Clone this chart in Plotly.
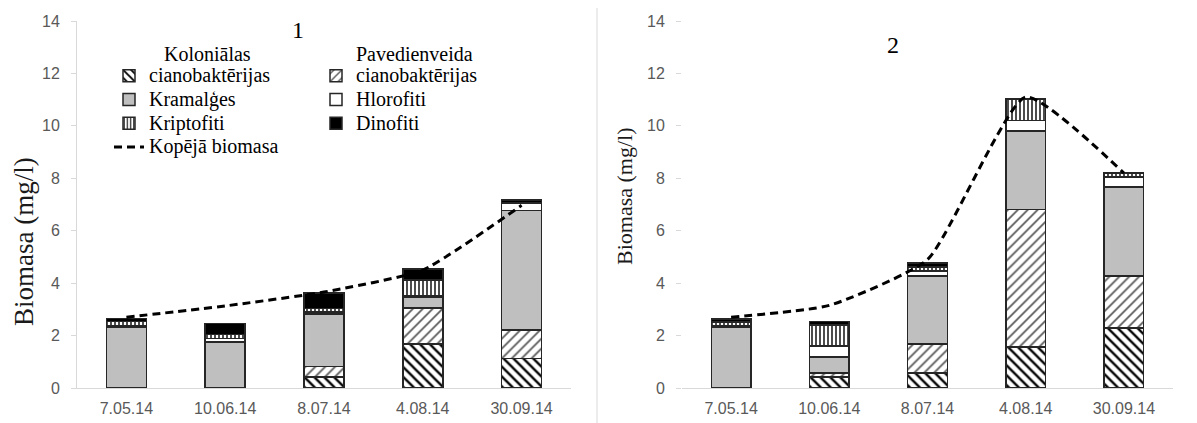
import plotly.graph_objects as go

# The page body has an 8px margin, so the figure is 8px smaller than the window.
W, H = 1189, 415

dates = ["7.05.14", "10.06.14", "8.07.14", "4.08.14", "30.09.14"]

# Panel 1 (mg/l)
kol1 = [0.0, 0.0, 0.42, 1.68, 1.13]
pav1 = [0.0, 0.0, 0.40, 1.37, 1.08]
kram1 = [2.33, 1.76, 2.00, 0.42, 4.56]
hlor1 = [0.05, 0.12, 0.08, 0.05, 0.28]
kript1 = [0.15, 0.17, 0.14, 0.60, 0.02]
dino1 = [0.12, 0.42, 0.58, 0.42, 0.10]
total1 = [2.70, 3.13, 3.66, 4.50, 6.97]

# Panel 2 (mg/l)
kol2 = [0.0, 0.42, 0.57, 1.56, 2.29]
pav2 = [0.0, 0.15, 1.11, 5.24, 1.98]
kram2 = [2.33, 0.61, 2.59, 3.00, 3.40]
hlor2 = [0.05, 0.42, 0.20, 0.40, 0.38]
kript2 = [0.13, 0.80, 0.15, 0.82, 0.15]
dino2 = [0.12, 0.13, 0.15, 0.0, 0.02]
total2 = [2.70, 3.15, 4.90, 11.10, 8.20]

SP = '<span style="font-size:20px">%s</span>'
names = [
    SP % "\u00a0\u00a0\u00a0Koloniālas" + "<br>" + SP % "cianobaktērijas",
    SP % "Pavedienveida" + "<br>" + SP % "cianobaktērijas",
    SP % "Kramalģes",
    SP % "Hlorofiti",
    SP % "Kriptofiti",
    SP % "Dinofiti",
]
line_name = SP % "Kopējā biomasa"

EDGE = "#262626"
styles = [
    dict(color="white", pattern=dict(shape="\\", fgcolor="#000000", bgcolor="white", size=7, solidity=0.33)),
    dict(color="white", pattern=dict(shape="/", fgcolor="#595959", bgcolor="white", size=7, solidity=0.25)),
    dict(color="#bfbfbf"),
    dict(color="white"),
    dict(color="white", pattern=dict(shape="|", fgcolor="#000000", bgcolor="white", size=4, solidity=0.35)),
    dict(color="#000000"),
]
legend_of = ["legend", "legend2", "legend", "legend2", "legend", "legend2"]

fig = go.Figure()

panels = [
    ([kol1, pav1, kram1, hlor1, kript1, dino1], total1, "x", "y", True),
    ([kol2, pav2, kram2, hlor2, kript2, dino2], total2, "x2", "y2", False),
]

for series, total, xa, ya, show in panels:
    for i, vals in enumerate(series):
        st = styles[i]
        marker = dict(color=st["color"], line=dict(color=EDGE, width=1.5))
        if "pattern" in st:
            marker["pattern"] = st["pattern"]
        fig.add_trace(go.Bar(
            x=dates, y=vals, name=names[i], marker=marker,
            xaxis=xa, yaxis=ya, showlegend=show, legend=legend_of[i],
            legendgroup="g%d" % i,
        ))
    fig.add_trace(go.Scatter(
        x=dates, y=total, name=line_name, mode="lines",
        line=dict(color="black", width=3, dash="8px,5px", shape="spline", smoothing=0.5),
        xaxis=xa, yaxis=ya, showlegend=show, legend="legend", legendgroup="total",
    ))

tickfont = dict(family="Liberation Sans, Arial", size=16, color="#595959")
xcommon = dict(type="category", showline=True, linecolor="#d9d9d9", linewidth=1,
               ticks="", showgrid=False, zeroline=False, tickfont=tickfont,
               ticklabelstandoff=6, automargin=False)
ycommon = dict(range=[0, 14], dtick=2, showgrid=False, zeroline=False,
               ticks="outside", ticklen=5, tickcolor="#d9d9d9", tickfont=tickfont,
               ticklabelstandoff=8, automargin=False)

ydom = [(H - 380) / H, (H - 13) / H]
legfont = dict(family="Liberation Serif, Times New Roman", size=16, color="black")

fig.update_layout(
    width=W, height=H,
    template="none",
    paper_bgcolor="white", plot_bgcolor="white",
    margin=dict(l=0, r=0, t=0, b=0),
    barmode="stack", bargap=0.596,
    xaxis=dict(domain=[69 / W, 563 / W], anchor="y", **xcommon),
    yaxis=dict(domain=ydom, anchor="x", showline=True, linecolor="#d9d9d9", linewidth=1, **ycommon),
    xaxis2=dict(domain=[674 / W, 1165 / W], anchor="y2", **xcommon),
    yaxis2=dict(domain=ydom, anchor="x2", showline=False, **ycommon),
    legend=dict(x=101 / W, y=(H - 30) / H, xanchor="left", yanchor="top",
                bgcolor="rgba(0,0,0,0)", traceorder="normal", valign="bottom",
                font=legfont, tracegroupgap=0),
    legend2=dict(x=308 / W, y=(H - 30) / H, xanchor="left", yanchor="top",
                 bgcolor="rgba(0,0,0,0)", traceorder="normal", valign="bottom",
                 font=legfont, tracegroupgap=0),
    shapes=[dict(type="line", xref="paper", yref="paper", x0=589 / W, x1=589 / W,
                 y0=-0.1, y1=1.1, line=dict(color="#d9d9d9", width=1))],
    annotations=[
        dict(text="Biomasa (mg/l)", xref="paper", yref="paper", x=16 / W, y=(H - 234) / H,
             xanchor="center", yanchor="middle", textangle=-90, showarrow=False,
             font=dict(family="Liberation Serif, Times New Roman", size=27, color="#1a1a1a")),
        dict(text="Biomasa (mg/l)", xref="paper", yref="paper", x=617 / W, y=(H - 189) / H,
             xanchor="center", yanchor="middle", textangle=-90, showarrow=False,
             font=dict(family="Liberation Serif, Times New Roman", size=22, color="#1a1a1a")),
        dict(text="1", xref="paper", yref="paper", x=290 / W, y=(H - 22) / H,
             xanchor="center", yanchor="middle", showarrow=False,
             font=dict(family="Liberation Serif, Times New Roman", size=24, color="black")),
        dict(text="2", xref="paper", yref="paper", x=885 / W, y=(H - 37) / H,
             xanchor="center", yanchor="middle", showarrow=False,
             font=dict(family="Liberation Serif, Times New Roman", size=24, color="black")),
    ],
)

fig.write_html("out.html")
